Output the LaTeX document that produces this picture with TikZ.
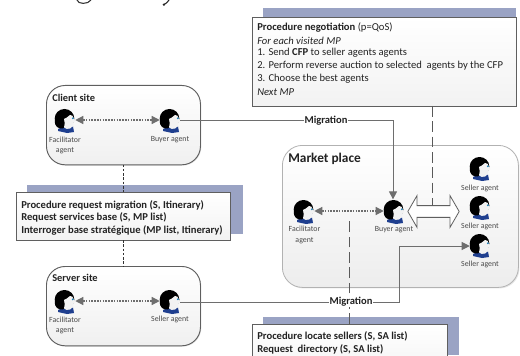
\documentclass[tikz,border=0pt]{standalone}
\usepackage{fontspec}
\setmainfont{Carlito}
\usetikzlibrary{arrows.meta,shapes.arrows,shadows,calc}
\definecolor{shadowblue}{HTML}{9AA3C4}
\definecolor{linegray}{HTML}{6E6E6E}
\definecolor{boxedge}{HTML}{5F5F5F}
\definecolor{txt}{HTML}{222222}
\definecolor{lbl}{HTML}{4A4A4A}
\definecolor{collar}{HTML}{1F3F8F}
\tikzset{
  px/.style={x=0.75pt,y=-0.75pt},
  backrect/.style={fill=shadowblue,draw=none},
  procbox/.style={draw=boxedge,line width=0.6pt,top color=white,bottom color=black!5,inner sep=0pt,anchor=north west},
  proctext/.style={anchor=west,font=\fontsize{7.95}{9}\selectfont,text=txt,inner sep=0pt},
  procbold/.style={anchor=west,font=\bfseries\fontsize{7.95}{9}\selectfont,text=txt,inner sep=0pt},
  site/.style={draw=boxedge,line width=0.7pt,rounded corners=14pt,top color=white,bottom color=black!6,anchor=north west,inner sep=0pt,drop shadow={shadow xshift=0.6pt,shadow yshift=-0.6pt,fill=black!25,opacity=.5}},
  market/.style={draw=black!30,line width=0.6pt,rounded corners=15pt,top color=white,bottom color=black!7,anchor=north west,inner sep=0pt,drop shadow={shadow xshift=0.8pt,shadow yshift=-0.8pt,fill=black!20,opacity=.5}},
  sitetitle/.style={anchor=west,font=\bfseries\fontsize{7.8}{9}\selectfont,text=txt,inner sep=0pt},
  agentspot/.style={inner sep=0pt,minimum width=15pt,minimum height=17pt},
  agentlabel/.style={align=center,font=\fontsize{5.9}{7.6}\selectfont,text=lbl,inner sep=0pt},
  dotlink/.style={draw=linegray,line width=0.9pt,dash pattern=on 1.2pt off 0.9pt,{Triangle[length=6pt,width=6pt,fill=linegray]}-{Triangle[length=6pt,width=6pt,fill=linegray]}},
  miglink/.style={draw=linegray,line width=0.75pt},
  miglabel/.style={fill=white,inner sep=0.4pt,font=\bfseries\fontsize{7.9}{9}\selectfont,text=txt},
  dashfine/.style={draw=black!80,line width=0.55pt,dash pattern=on 2pt off 1.2pt},
  dashlong/.style={draw=black!65,line width=0.75pt,dash pattern=on 8pt off 3.5pt},
  migarrow/.style={-{Triangle[length=6pt,width=6pt,fill=linegray]}},
  agentpic/.pic={
    \fill[collar] (-7,9) -- (-2,7) -- (2,9) -- (8,6.5) -- (9,12) -- (2,13) -- (-7,11) -- cycle;
    \fill[black] (-0.5,-1.5) ellipse [x radius=9.8,y radius=9.5];
    \fill[black] (-10,0) .. controls (-11,7) and (-6,9) .. (-2,8.5) -- (2,0) -- cycle;
    \fill[black!5] (-1,-1) .. controls (1,-2) and (3,-3) .. (5,-5) .. controls (7,-5) and (8.5,-4) .. (8.8,-1.5) -- (10,1) -- (8.6,2.5) .. controls (8.6,5) and (8,7.5) .. (5,8.5) .. controls (3,9) and (0,9) .. (-1,7.5) .. controls (0.5,5) and (-0.5,1.5) .. (-1,-1) -- cycle;
    \fill[collar!70!cyan] (7.8,-1.7) circle (1);
  }
}
\begin{document}
\begin{tikzpicture}[px]
\useasboundingbox (0,0) rectangle (520,356);
\clip (0,0) rectangle (520,356);
% clipped glyph remains at the top edge
\draw[black!80,line width=0.8pt] (77,0) .. controls (78,4.5) and (88,4.5) .. (91,0);
\draw[black!85,line width=0.8pt] (169,0) .. controls (167,3) and (165,4) .. (163,5);
\fill[black!85] (164,4.6) circle (1.3);
% blue offsets
\fill[backrect] (263,8) rectangle (516,60);
\fill[backrect] (27,185) rectangle (243,234);
\fill[backrect] (263,317) rectangle (459,355);
% Market place
\node[market,minimum width=177pt,minimum height=106.5pt] (mp) at (282,145) {};
\node[anchor=west,font=\bfseries\fontsize{10}{11}\selectfont,text=txt,inner sep=0pt] (mptitle) at (288,159) {Market place};
% Sites
\node[site,minimum width=115.5pt,minimum height=59.5pt] (client) at (46,85) {};
\node[sitetitle] (clienttitle) at (52,98) {Client site};
\node[site,minimum width=115.5pt,minimum height=59.5pt] (server) at (46,266) {};
\node[sitetitle] (servertitle) at (52,278) {Server site};
% Agents
\foreach \n/\x/\y in {cf/65/120,cb/170/120,sf/65/301,ss/170/301,mf/304/211,mb/394/211,s1/480/168,s2/480/207,s3/480/245}{
  \node[agentspot] (\n) at (\x,\y) {};
  \pic at (\x,\y) {agentpic};
}
\node[agentlabel] (cfl) at (65,145.5) {Facilitator\\agent};
\node[agentlabel] (cbl) at (170,139.5) {Buyer agent};
\node[agentlabel] (sfl) at (65,325.5) {Facilitator\\agent};
\node[agentlabel] (ssl) at (170,319.5) {Seller agent};
\node[agentlabel] (mfl) at (304.5,235) {Facilitator\\agent};
\node[agentlabel] (mbl) at (394,230) {Buyer agent};
\node[agentlabel] (s1l) at (480,188.5) {Seller agent};
\node[agentlabel] (s2l) at (480,226.5) {Seller agent};
\node[agentlabel] (s3l) at (480,264.5) {Seller agent};
% dotted links
\draw[dotlink] (cf) -- (cb);
\draw[dotlink] (sf) -- (ss);
\draw[dotlink] (mf) -- (mb);
% Double block arrow
\node[double arrow,draw=boxedge,fill=white,line width=0.6pt,inner xsep=0pt,inner ysep=4.1pt,minimum height=38.5pt,minimum width=23.2pt,double arrow head extend=7.5pt,double arrow tip angle=120,double arrow head indent=0pt] (blockarrow) at (433.5,211.5) {};
% Procedure boxes
\node[procbox,minimum width=198pt,minimum height=67pt] (neg) at (252,17) {};
\node[procbox,minimum width=160.5pt,minimum height=36pt] (req) at (16,192) {};
\node[procbox,minimum width=146.25pt,minimum height=40pt] (loc) at (252,324) {};
\node[proctext] (n1) at (257,28) {\textbf{Procedure negotiation} (p=QoS)};
\node[proctext] (n2) at (257,41) {\textit{For each visited MP}};
\node[proctext] (n3) at (257,53) {1. Send \textbf{CFP} to seller agents agents};
\node[proctext] (n4) at (257,66) {2. Perform reverse auction to selected\ \ agents by the CFP};
\node[proctext] (n5) at (257,79) {3. Choose the best agents};
\node[proctext] (n6) at (257,92) {\textit{Next MP}};
\node[procbold] (r1) at (21,205) {Procedure request migration (S, Itinerary)};
\node[procbold] (r2) at (21,217) {Request services base (S, MP list)};
\node[procbold] (r3) at (21,230) {Interroger base stratégique (MP list, Itinerary)};
\node[procbold] (l1) at (257,336) {Procedure locate sellers (S, SA list)};
\node[procbold] (l2) at (257,349) {Request\ \ directory (S, SA list)};
% Dashed connectors
\coordinate (a1) at (123,164.5);
\coordinate (a2) at (123,192);
\coordinate (a3) at (123,240);
\coordinate (a4) at (123,266);
\draw[dashfine] (a1) -- (a2);
\draw[dashfine] (a3) -- (a4);
\coordinate (b1) at (432,106);
\coordinate (b2) at (432,205.5);
\draw[dashlong] (b1) -- (b2);
\coordinate (c1) at (349,324);
\coordinate (c2) at (349,218);
\draw[dashlong] (c1) -- (c2);
% Migration links
\coordinate (m1) at (393,121);
\draw[miglink,migarrow] (cb.east |- m1) -- (m1) -- (mb.north -| m1);
\node[miglabel] (mig1) at (326,121) {Migration};
\coordinate (m2) at (399,302);
\coordinate (m3) at (399,246);
\draw[miglink,migarrow] (ss.east |- m2) -- (m2) -- (m3) -- (s3.west |- m3);
\node[miglabel] (mig2) at (351,302) {Migration};
\end{tikzpicture}
\end{document}
